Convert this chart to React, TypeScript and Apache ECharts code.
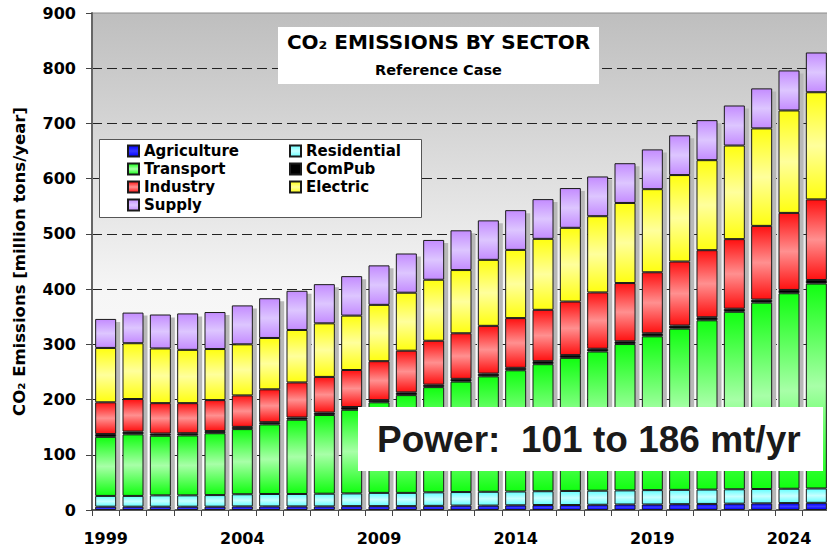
import React, { useEffect, useRef } from "react";
import * as echarts from "echarts";

const years = [
  "1999", "2000", "2001", "2002", "2003", "2004", "2005", "2006", "2007",
  "2008", "2009", "2010", "2011", "2012", "2013", "2014", "2015", "2016",
  "2017", "2018", "2019", "2020", "2021", "2022", "2023", "2024", "2025",
];

const agriculture = [6, 6, 6, 6, 6, 6.5, 6.5, 6.5, 6.5, 7, 7, 7, 7.5, 8, 8, 8.5, 9, 9, 9.5, 10, 10, 10.5, 11, 11.5, 12, 12.5, 13];
const residential = [19.5, 19.5, 20.5, 20.5, 21, 22, 22.5, 22.5, 23, 23, 24, 24, 24.5, 24.5, 25, 25, 25, 25.5, 25.5, 25.5, 26, 26, 26, 26, 26, 26, 26];
const transport = [107, 111.5, 108, 108.5, 112, 118, 126, 134.5, 142.5, 151.5, 164, 177, 190.5, 200, 209, 219.5, 230, 241, 252, 265, 278.5, 292, 306.5, 321.5, 337.5, 354, 371];
const comPub = [5, 5, 4, 4, 4, 4, 4, 4, 4.5, 5, 4, 5, 4.5, 5, 5, 4.5, 5.5, 5, 5, 5, 5.5, 5.5, 5.5, 5.5, 5.5, 6, 6.5];
const industry = [57.5, 59, 55, 54.5, 56, 57, 59.5, 63.5, 64.5, 67, 70.5, 75.5, 79.5, 82.5, 86.5, 90, 93, 97, 102, 105.5, 110.5, 116, 121.5, 126, 133.5, 139.5, 146];
const electric = [98.5, 101, 99, 96.5, 92.5, 92.5, 93, 95, 97, 98.5, 102, 105, 110.5, 114.5, 119.5, 123.5, 128.5, 133.5, 138, 145, 150.5, 156.5, 163, 169.5, 176.5, 185.5, 194];
const supply = [52.5, 55.5, 61.5, 66, 67, 70.5, 72, 71, 71, 71.5, 71.5, 71, 72, 72, 71.5, 72, 72, 72, 72, 72, 72, 72, 72.5, 72.5, 72.5, 72.5, 72];

const yTicks = { min: 0, max: 900, interval: 100 };
const titleText = "CO\u2082 EMISSIONS BY SECTOR";
const subtitleText = "Reference Case";
const yAxisName = "CO\u2082 Emissions [million tons/year]";
const powerText = "Power:  101 to 186 mt/yr";

const FONT = '"DejaVu Sans"';

const grad = (edge: string, mid: string) =>
  new echarts.graphic.LinearGradient(0, 0, 0, 1, [
    { offset: 0, color: edge },
    { offset: 0.5, color: mid },
    { offset: 1, color: edge },
  ]);

const sectors = [
  { name: "Agriculture", data: agriculture, color: grad("#0000ff", "#3a3aff") },
  { name: "Residential", data: residential, color: grad("#66ffff", "#c8ffff") },
  { name: "Transport", data: transport, color: grad("#11ff11", "#a8ffa8") },
  { name: "ComPub", data: comPub, color: "#000000" },
  { name: "Industry", data: industry, color: grad("#ff1111", "#ff9090") },
  { name: "Electric", data: electric, color: grad("#ffff11", "#ffff9c") },
  { name: "Supply", data: supply, color: grad("#c48cff", "#ddc6ff") },
];

const BAR_W = 21;

export default function App() {
  const ref = useRef<HTMLDivElement>(null);
  useEffect(() => {
    const chart = echarts.init(ref.current!, null, { renderer: "svg" });
    const totals = years.map((_, i) => sectors.reduce((s, sec) => s + sec.data[i], 0));

    const option: any = {
      animation: false,
      grid: {
        left: 92,
        right: -3,
        top: 13,
        bottom: 38,
        show: true,
        borderColor: "#8c8c8c",
        borderWidth: 1,
        backgroundColor: new echarts.graphic.LinearGradient(0, 0, 0, 1, [
          { offset: 0, color: "#bebebe" },
          { offset: 0.56, color: "#f6f6f6" },
          { offset: 1, color: "#ffffff" },
        ]),
        outerBoundsMode: "none",
      },
      legend: {
        data: sectors.map((s) => s.name),
        left: 127,
        top: 143.5,
        width: 325,
        orient: "horizontal",
        padding: 0,
        itemGap: 3,
        itemWidth: 11,
        itemHeight: 11,
        icon: "rect",
        z: 4,
        selectedMode: false,
        textStyle: {
          fontFamily: FONT,
          fontWeight: "bold",
          fontSize: 15,
          color: "#000",
          width: 142,
          lineHeight: 15,
        },
      },
      xAxis: {
        type: "category",
        data: years,
        boundaryGap: true,
        axisLine: { show: true, lineStyle: { color: "#333", width: 1.5 } },
        axisTick: { show: true, interval: 0, length: 6, lineStyle: { color: "#444" } },
        axisLabel: {
          interval: 4,
          margin: 20,
          fontFamily: FONT,
          fontWeight: "bold",
          fontSize: 16,
          color: "#000",
        },
        splitLine: { show: false },
      },
      yAxis: {
        type: "value",
        min: yTicks.min,
        max: yTicks.max,
        interval: yTicks.interval,
        name: yAxisName,
        nameLocation: "middle",
        nameGap: 64,
        nameTextStyle: { fontFamily: FONT, fontWeight: "bold", fontSize: 16.5, color: "#000" },
        axisLine: { show: true, lineStyle: { color: "#666", width: 2 } },
        axisTick: { show: true, length: 6, lineStyle: { color: "#444" } },
        axisLabel: { margin: 16, fontFamily: FONT, fontWeight: "bold", fontSize: 16, color: "#000" },
        splitLine: {
          show: true,
          showMinLine: false,
          showMaxLine: false,
          lineStyle: { color: "#222", type: [10, 5], width: 1 },
        },
      },
      series: [
        {
          type: "custom",
          name: "shadow",
          z: 1,
          silent: true,
          data: totals.map((t, i) => [i, t]),
          encode: { x: 0, y: 1 },
          renderItem: (params: any, api: any) => {
            const idx = api.value(0);
            const top = api.coord([idx, api.value(1)]);
            const base = api.coord([idx, 0]);
            return {
              type: "rect",
              shape: { x: top[0] - BAR_W / 2 + 4, y: top[1] + 3, width: BAR_W, height: base[1] - top[1] - 3 },
              style: { fill: "#b8b8b8" },
            };
          },
        },
        ...sectors.map((s) => ({
          type: "bar",
          name: s.name,
          stack: "total",
          data: s.data,
          barWidth: BAR_W,
          z: 2,
          itemStyle: { color: s.color, borderColor: "#1a1a1a", borderWidth: 1 },
          emphasis: { disabled: true },
        })),
      ],
      graphic: [
        { type: "rect", z: 3, shape: { x: 278, y: 27, width: 321, height: 57 }, style: { fill: "#fff" } },
        {
          type: "text", z: 4, x: 438.5, y: 42,
          style: { text: titleText, font: `bold 20px ${FONT}`, fill: "#000", align: "center", verticalAlign: "middle" },
        },
        {
          type: "text", z: 4, x: 438.5, y: 70,
          style: { text: subtitleText, font: `bold 14.5px ${FONT}`, fill: "#000", align: "center", verticalAlign: "middle" },
        },
        {
          type: "rect", z: 3, shape: { x: 99.5, y: 139.5, width: 322, height: 78 },
          style: { fill: "#fff", stroke: "#555", lineWidth: 1 },
        },
        { type: "rect", z: 10, shape: { x: 358, y: 407, width: 465, height: 64 }, style: { fill: "#fff" } },
        {
          type: "text", z: 11, x: 377, y: 439,
          style: { text: powerText, font: 'bold 37px "Liberation Sans"', fill: "#1a1a1a", align: "left", verticalAlign: "middle" },
        },
      ],
    };
    chart.setOption(option);
    return () => chart.dispose();
  }, []);
  return (
    <div
      ref={ref}
      style={{ position: "fixed", left: 0, top: 0, width: 827, height: 548, background: "#fff" }}
    />
  );
}
